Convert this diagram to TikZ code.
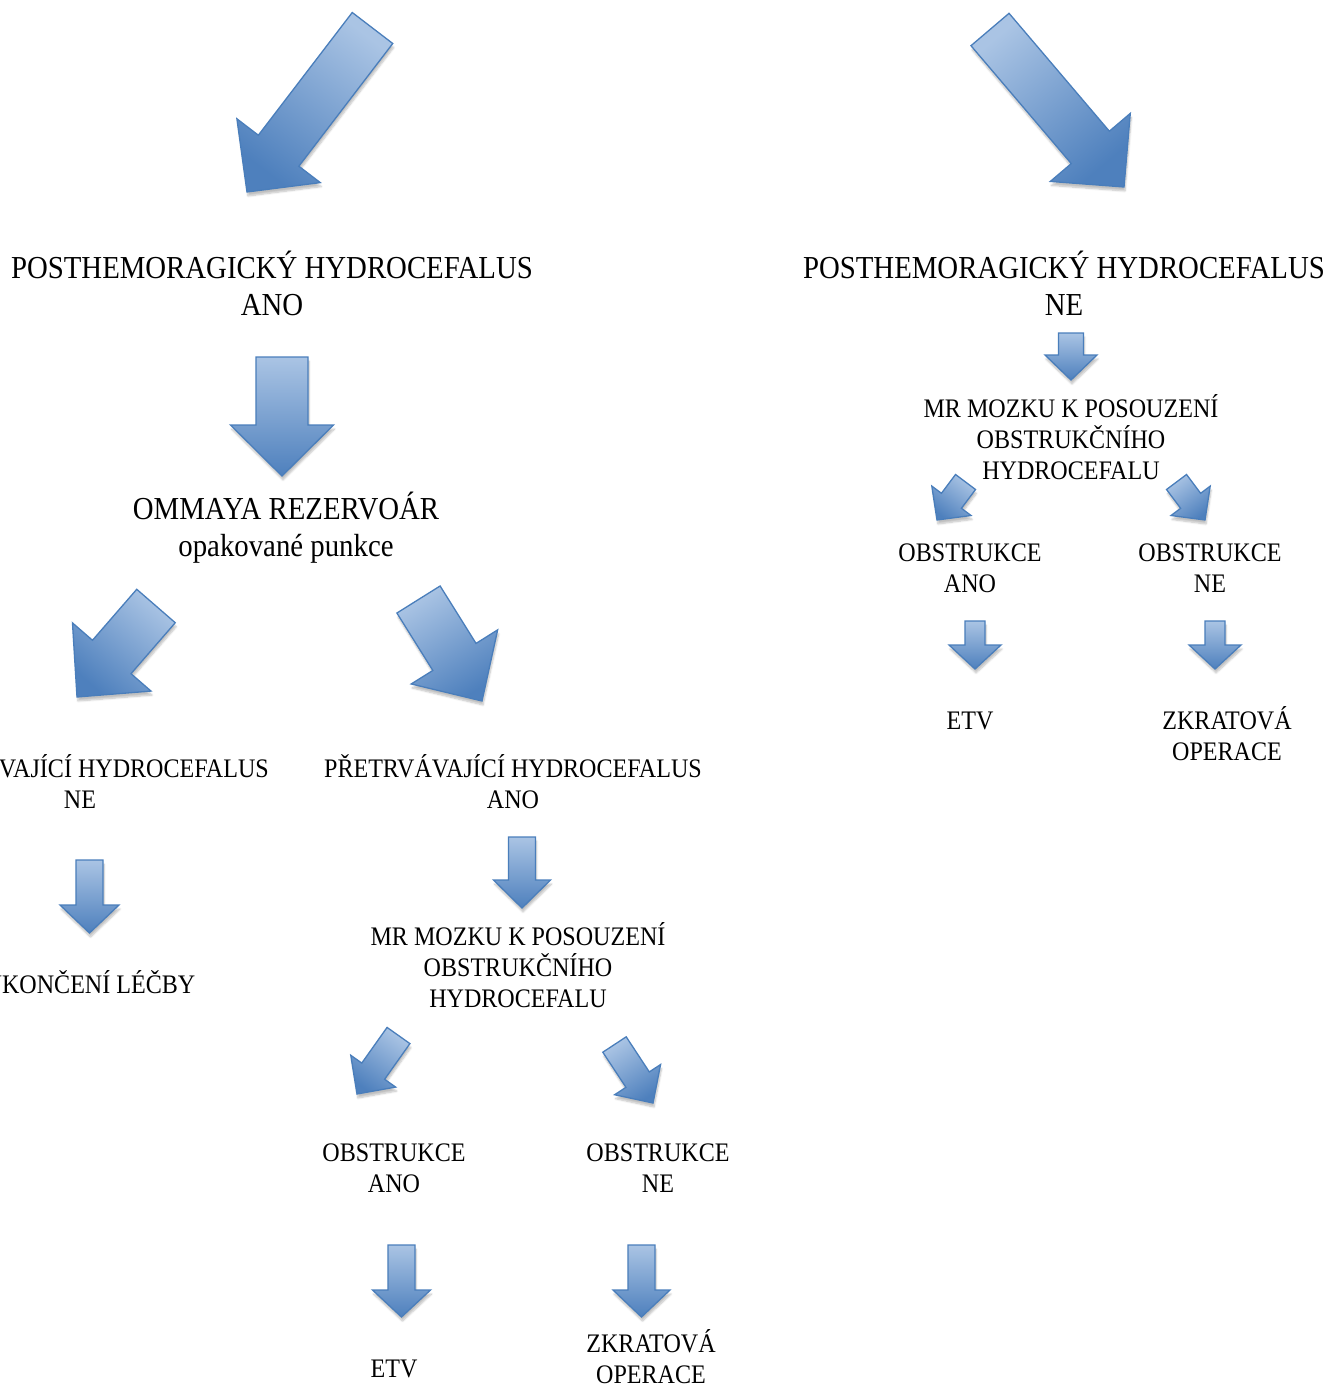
\documentclass[tikz,border=0pt]{standalone}
\usepackage{fontspec}
\setmainfont[FakeStretch=0.9]{Liberation Serif}
\usetikzlibrary{calc,shadows.blur}
\definecolor{arrtop}{RGB}{170,196,228}
\definecolor{arrbot}{RGB}{78,128,189}
\definecolor{arrline}{RGB}{74,126,187}
\tikzset{
  blockarrow/.style={draw=arrline, line width=1.3pt, line join=miter,
    top color=arrtop, bottom color=arrbot,
    blur shadow={shadow xshift=1pt, shadow yshift=-4pt, shadow blur steps=6, shadow opacity=25}},
  bigtext/.style={font=\fontsize{32}{37}\selectfont, align=center, inner sep=0pt, anchor=base},
  smalltext/.style={font=\fontsize{26.75}{31}\selectfont, align=center, inner sep=0pt, anchor=base},
}
% #1 tail coordinate, #2 tip coordinate, #3 half shaft width, #4 half head width, #5 head length
\newcommand\barr[5]{%
  \pgfmathanglebetweenpoints{\pgfpointanchor{#1}{center}}{\pgfpointanchor{#2}{center}}%
  \pgfmathsetmacro\barang{\pgfmathresult+90}%
  \coordinate (bj) at ($(#2)!#5pt!(#1)$);
  \path[blockarrow, shading angle=\barang]
    ($(#1)!#3pt!90:(#2)$) -- ($(bj)!#3pt!90:(#2)$) -- ($(bj)!#4pt!90:(#2)$) -- (#2)
    -- ($(bj)!#4pt!-90:(#2)$) -- ($(bj)!#3pt!-90:(#2)$) -- ($(#1)!#3pt!-90:(#2)$) -- cycle;}
\begin{document}
\begin{tikzpicture}[x=1pt,y=-1pt]
\useasboundingbox (0,0) rectangle (1342,1384);
% arrow end points
\coordinate (a1t) at (372.5,28);   \coordinate (a1h) at (247,192);
\coordinate (a2t) at (990,29.5);   \coordinate (a2h) at (1124,187);
\coordinate (a3t) at (282,357);    \coordinate (a3h) at (282,476);
\coordinate (a4t) at (1071,333);   \coordinate (a4h) at (1071,380);
\coordinate (a5t) at (965.5,482);  \coordinate (a5h) at (937,520);
\coordinate (a6t) at (1176.5,482); \coordinate (a6h) at (1205,520);
\coordinate (a7t) at (975,621);    \coordinate (a7h) at (975,669);
\coordinate (a8t) at (1215,621);   \coordinate (a8h) at (1215,669);
\coordinate (a9t) at (156,606);    \coordinate (a9h) at (77,697);
\coordinate (a10t) at (418.5,599.5); \coordinate (a10h) at (482,701);
\coordinate (a11t) at (89.5,860);  \coordinate (a11h) at (89.5,933);
\coordinate (a12t) at (522,837);   \coordinate (a12h) at (522,908);
\coordinate (a13t) at (398.5,1035.5); \coordinate (a13h) at (357,1094);
\coordinate (a14t) at (614.5,1044.5); \coordinate (a14h) at (653,1103);
\coordinate (a15t) at (401.5,1245); \coordinate (a15h) at (401.5,1317);
\coordinate (a16t) at (641.5,1245); \coordinate (a16h) at (641.5,1317);

\barr{a1t}{a1h}{25.5}{52.5}{52}
\barr{a2t}{a2h}{25}{52.5}{52}
\barr{a3t}{a3h}{26}{51.5}{51}
\barr{a4t}{a4h}{12.5}{26}{25}
\barr{a5t}{a5h}{12.5}{24.5}{24}
\barr{a6t}{a6h}{12.5}{24.5}{24}
\barr{a7t}{a7h}{10}{26}{24}
\barr{a8t}{a8h}{10}{26}{24}
\barr{a9t}{a9h}{25.5}{52}{53}
\barr{a10t}{a10h}{25.5}{51}{52}
\barr{a11t}{a11h}{13.5}{29.5}{28}
\barr{a12t}{a12h}{13.5}{28.5}{28}
\barr{a13t}{a13h}{14}{27.5}{28}
\barr{a14t}{a14h}{14}{27.5}{28}
\barr{a15t}{a15h}{13.5}{29}{27}
\barr{a16t}{a16h}{13.5}{28.5}{27}

% texts (base anchor = baseline of the last line)
\node[bigtext] (t1) at (272,315) {POSTHEMORAGICKÝ HYDROCEFALUS\\ANO};
\node[bigtext] (t2) at (1064,315) {POSTHEMORAGICKÝ HYDROCEFALUS\\NE};
\node[bigtext] (t3) at (286,556) {OMMAYA REZERVOÁR\\opakované punkce};
\node[smalltext] (t4) at (80,808) {PŘETRVÁVAJÍCÍ HYDROCEFALUS\\NE};
\node[smalltext] (t5) at (513,808) {PŘETRVÁVAJÍCÍ HYDROCEFALUS\\ANO};
\node[smalltext] (t6) at (90,993) {UKONČENÍ LÉČBY};
\node[smalltext] (t7) at (518,1007) {MR MOZKU K POSOUZENÍ\\OBSTRUKČNÍHO\\HYDROCEFALU};
\node[smalltext] (t8) at (394,1192) {OBSTRUKCE\\ANO};
\node[smalltext] (t9) at (658,1192) {OBSTRUKCE\\NE};
\node[smalltext] (t10) at (394,1377) {ETV};
\node[smalltext] (t11) at (651,1383) {ZKRATOVÁ\\OPERACE};
\node[smalltext] (t12) at (1071,479) {MR MOZKU K POSOUZENÍ\\OBSTRUKČNÍHO\\HYDROCEFALU};
\node[smalltext] (t13) at (970,592) {OBSTRUKCE\\ANO};
\node[smalltext] (t14) at (1210,592) {OBSTRUKCE\\NE};
\node[smalltext] (t15) at (970,729) {ETV};
\node[smalltext] (t16) at (1227,760) {ZKRATOVÁ\\OPERACE};
\end{tikzpicture}
\end{document}
